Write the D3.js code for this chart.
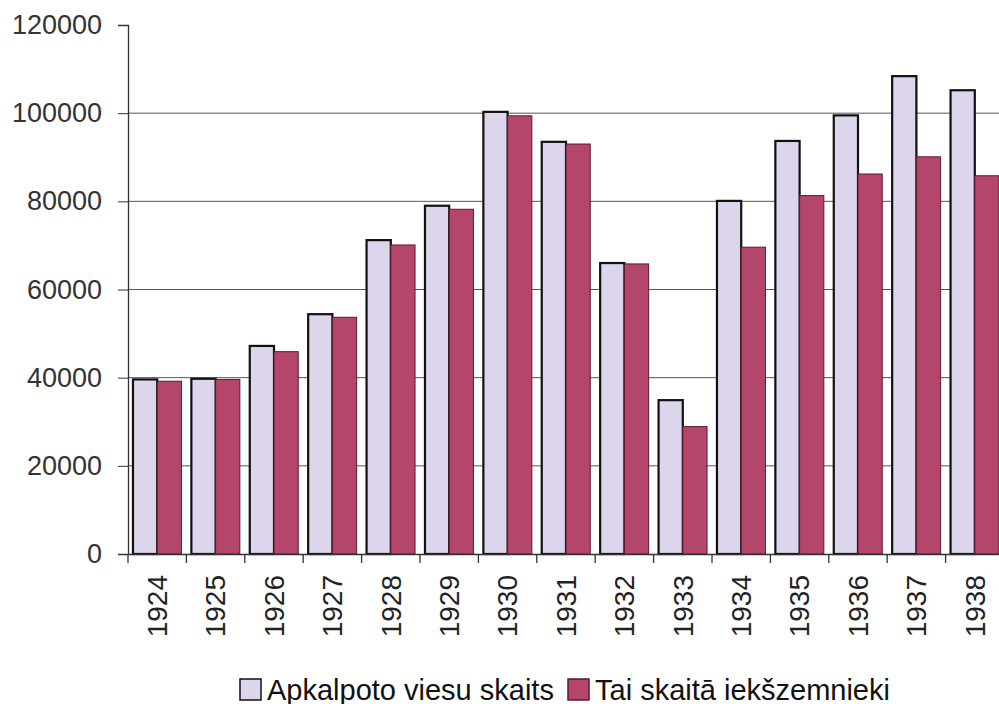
<!DOCTYPE html>
<html>
<head>
<meta charset="utf-8">
<script src="https://cdnjs.cloudflare.com/ajax/libs/d3/7.8.5/d3.min.js"></script>
<style>
  body { margin: 0; background: #fff; }
  svg { font-family: "Liberation Sans", Arial, sans-serif; }
</style>
</head>
<body>
<div id="chart"></div>
<script>
var years = ["1924", "1925", "1926", "1927", "1928", "1929", "1930", "1931", "1932", "1933", "1934", "1935", "1936", "1937", "1938"]
var totalGuests = [39600, 39750, 47200, 54400, 71200, 79000, 100300, 93500, 66000, 34900, 80100, 93700, 99500, 108400, 105200]
var domesticGuests = [39200, 39600, 45900, 53700, 70100, 78200, 99400, 93000, 65800, 28900, 69600, 81300, 86200, 90100, 85800]
var yTicks = [0, 20000, 40000, 60000, 80000, 100000, 120000]
var seriesNames = ["Apkalpoto viesu skaits", "Tai skaitā iekšzemnieki"]

var outerWidth = 999,
    outerHeight = 704
var margin = { top: 25, right: -5, bottom: 150, left: 128 }
var innerWidth = outerWidth - margin.left - margin.right
var innerHeight = outerHeight - margin.top - margin.bottom

var colors = ["#ddd5eb", "#b5466b"]
var strokes = ["#111", "#5a1a30"]

var svg = d3.select("#chart")
    .append("svg")
    .attr("width", outerWidth)
    .attr("height", outerHeight)

var plot = svg.append("g")
    .attr("transform", "translate(" + margin.left + "," + margin.top + ")")

var xScale = d3.scaleBand().domain(years).range([0, innerWidth]).paddingInner(0.17).paddingOuter(0.085)
var xSub = d3.scaleBand().domain([0, 1]).range([0, xScale.bandwidth()])
var yScale = d3.scaleLinear().domain([0, 120000]).range([innerHeight, 0])

// gridlines
plot.append("g")
    .selectAll("line")
    .data(yTicks.filter(d => d > 0 && d < 120000))
    .enter()
    .append("line")
    .attr("x1", 0)
    .attr("x2", innerWidth)
    .attr("y1", d => yScale(d))
    .attr("y2", d => yScale(d))
    .attr("stroke", "#555")
    .attr("stroke-width", 1)

// bars
var groups = plot.append("g")
    .selectAll("g")
    .data(years)
    .enter()
    .append("g")
    .attr("transform", d => "translate(" + xScale(d) + ",0)")

groups.selectAll("rect")
    .data((d, i) => [totalGuests[i], domesticGuests[i]])
    .enter()
    .append("rect")
    .attr("x", (d, j) => xSub(j))
    .attr("width", xSub.bandwidth())
    .attr("y", d => yScale(d))
    .attr("height", d => innerHeight - yScale(d))
    .attr("fill", (d, j) => colors[j])
    .attr("stroke", (d, j) => strokes[j])
    .attr("stroke-width", (d, j) => j == 0 ? 2.2 : 1)

// y axis
var yAxis = plot.append("g")
    .call(d3.axisLeft(yScale).tickValues(yTicks).tickSize(10).tickPadding(16).tickFormat(d => d))
yAxis.select(".domain").attr("stroke", "#333").attr("stroke-width", 1.3)
yAxis.selectAll(".tick line").attr("stroke", "#333")
yAxis.selectAll("text")
    .attr("font-size", "27px")
    .attr("fill", "#333")

// x axis
var xAxis = plot.append("g")
    .attr("transform", "translate(0," + innerHeight + ")")
    .call(d3.axisBottom(xScale).tickSize(0).tickPadding(0))
xAxis.select(".domain").attr("stroke", "#333").attr("stroke-width", 1.3)
xAxis.selectAll("text")
    .attr("font-size", "28px")
    .attr("fill", "#222")
    .attr("transform", "rotate(-90)")
    .attr("text-anchor", "end")
    .attr("dy", "0.35em")
    .attr("y", 0)
    .attr("x", -21)

// separator ticks between groups
var step = xScale.step()
plot.append("g")
    .selectAll("line")
    .data(d3.range(years.length + 1))
    .enter()
    .append("line")
    .attr("x1", d => xScale(years[0]) - xScale.paddingOuter() * step + d * step)
    .attr("x2", d => xScale(years[0]) - xScale.paddingOuter() * step + d * step)
    .attr("y1", innerHeight)
    .attr("y2", innerHeight + 9)
    .attr("stroke", "#333")
    .attr("stroke-width", 1.3)

// legend
var legend = svg.append("g")
    .attr("transform", "translate(240,690)")
var legendX = [0, 328]
seriesNames.forEach(function(name, i) {
    var g = legend.append("g").attr("transform", "translate(" + legendX[i] + ",0)")
    g.append("rect")
        .attr("x", 0)
        .attr("y", -11)
        .attr("width", 21)
        .attr("height", 21)
        .attr("fill", colors[i])
        .attr("stroke", strokes[i])
        .attr("stroke-width", 1.5)
    g.append("text")
        .attr("x", 27)
        .attr("y", 0)
        .attr("dy", "0.35em")
        .attr("font-size", "29px")
        .attr("fill", "#111")
        .text(name)
})
</script>
</body>
</html>
